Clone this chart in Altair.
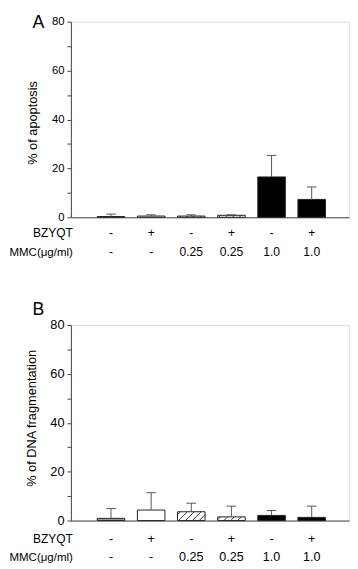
import altair as alt
import pandas as pd

# ---- data ----
positions = [1, 2, 3, 4, 5, 6]
bzyqt = ["-", "+", "-", "+", "-", "+"]
mmc = ["-", "-", "0.25", "0.25", "1.0", "1.0"]
fills = ["#9a9a9a", "#ffffff", "#ffffff", "#ffffff", "#000000", "#000000"]
hatched = [False, False, True, True, False, False]

apoptosis = [0.3, 0.5, 0.5, 0.8, 16.5, 7.3]
apoptosis_err = [1.3, 1.0, 1.0, 1.0, 25.3, 12.4]

dna = [0.9, 4.3, 3.6, 1.5, 2.1, 1.3]
dna_err = [4.9, 11.4, 7.1, 5.9, 4.1, 5.9]

y_ticks = [0, 10, 20, 30, 40, 50, 60, 70, 80]

# ---- layout constants ----
W = 283
H = 199
X_MAX = 6.93
Y_MAX = 80
HALF = 0.343
CAP = 0.12

xs = alt.Scale(domain=[0, X_MAX], nice=False, zero=False)
ys = alt.Scale(domain=[0, Y_MAX], nice=False)
AX = "#444444"


def hatch_lines(values):
    rows = []
    xpx = W / X_MAX
    ypx = H / Y_MAX
    step = 7.0
    for p, v, h in zip(positions, values, hatched):
        if not h:
            continue
        bw = 2 * HALF * xpx
        bh = v * ypx
        left = p - HALF
        c = -bh + 3
        while c < bw:
            t0 = max(0.0, -c)
            t1 = min(bh, bw - c)
            if t1 > t0:
                rows.append({"hx": left + (c + t0) / xpx, "hy": t0 / ypx,
                             "hx2": left + (c + t1) / xpx, "hy2": t1 / ypx})
            c += step
    return pd.DataFrame(rows)


def anchor(x, y):
    # invisible layout anchor that fixes the panel's bounding box
    return alt.Chart(pd.DataFrame({"k": [0]})).mark_rule(opacity=0, strokeWidth=1).encode(
        x=alt.value(x), x2=alt.value(x + 1), y=alt.value(y), y2=alt.value(y))


def panel(values, errs, letter, letter_y, ytitle, ytitle_y, ytitle_x,
          tick_fs, row_fs, row1_y, row2_y, top_anchor, bottom_anchor):
    xa = alt.Axis(title=None, labels=False, ticks=False, grid=False,
                  domainColor=AX, domainWidth=1)
    ya = alt.Axis(title=None, values=y_ticks, grid=False,
                  labelExpr="datum.value % 20 == 0 ? datum.label : ''",
                  tickSize=4, tickColor=AX, domainColor=AX,
                  labelFontSize=tick_fs, labelColor="#000000",
                  labelPadding=3)

    df = pd.DataFrame({"pos": positions, "v": values, "e": errs,
                       "fill": fills, "bz": bzyqt, "mmc": mmc})
    df["zero"] = 0.0
    df["x0"] = df["pos"] - HALF
    df["x1"] = df["pos"] + HALF
    df["c0"] = df["pos"] - CAP
    df["c1"] = df["pos"] + CAP
    base = alt.Chart(df)

    bars = base.mark_bar(stroke="#222222", strokeWidth=1).encode(
        x=alt.X("x0:Q", scale=xs, axis=xa),
        x2="x1:Q",
        y=alt.Y("v:Q", scale=ys, axis=ya),
        y2="zero:Q",
        fill=alt.Color("fill:N", scale=None),
    )

    hdf = hatch_lines(values)
    hatch = alt.Chart(hdf).mark_rule(color="#222222", strokeWidth=0.9).encode(
        x=alt.X("hx:Q", scale=xs, axis=xa),
        x2="hx2:Q",
        y=alt.Y("hy:Q", scale=ys, axis=ya),
        y2="hy2:Q",
    )

    err = base.mark_rule(color="#555555", strokeWidth=1).encode(
        x=alt.X("pos:Q", scale=xs, axis=xa),
        y=alt.Y("v:Q", scale=ys, axis=ya),
        y2="e:Q",
    )
    cap = base.mark_rule(color="#555555", strokeWidth=1).encode(
        x=alt.X("c0:Q", scale=xs, axis=xa),
        x2="c1:Q",
        y=alt.Y("e:Q", scale=ys, axis=ya),
    )

    row1 = base.mark_text(fontSize=row_fs, baseline="middle", color="#000000").encode(
        x=alt.X("pos:Q", scale=xs, axis=xa), y=alt.value(row1_y), text="bz:N")
    row2 = base.mark_text(fontSize=row_fs, baseline="middle", color="#000000").encode(
        x=alt.X("pos:Q", scale=xs, axis=xa), y=alt.value(row2_y), text="mmc:N")

    head1 = alt.Chart(pd.DataFrame({"t": ["BZYQT"]})).mark_text(
        fontSize=12.2, align="right", baseline="middle", color="#000000").encode(
        x=alt.value(2), y=alt.value(row1_y), text="t:N")
    head2 = alt.Chart(pd.DataFrame({"t": ["MMC(μg/ml)"]})).mark_text(
        fontSize=11.7, align="right", baseline="middle", color="#000000").encode(
        x=alt.value(2), y=alt.value(row2_y), text="t:N")

    ttl = alt.Chart(pd.DataFrame({"t": [ytitle]})).mark_text(
        fontSize=13, angle=270, align="center", baseline="middle", color="#000000").encode(
        x=alt.value(ytitle_x), y=alt.value(ytitle_y), text="t:N")

    let = alt.Chart(pd.DataFrame({"t": [letter]})).mark_text(
        fontSize=18, align="left", baseline="alphabetic", color="#000000").encode(
        x=alt.value(-39), y=alt.value(letter_y), text="t:N")

    return alt.layer(bars, hatch, err, cap, row1, row2, head1, head2, ttl, let,
                     anchor(-62, top_anchor), anchor(-62, bottom_anchor)).properties(
        width=W, height=H)


panel_a = panel(apoptosis, apoptosis_err, "A", 6, "% of apoptosis", 103, -38,
                11.5, 12.3, 215, 234, -7.2, 245)
panel_b = panel(dna, dna_err, "B", -10, "% of DNA fragmentation", 95, -40,
                13, 12.8, 218, 236, -28, 245)

chart = alt.vconcat(panel_a, panel_b, spacing=33.6).properties(
    padding={"left": 0, "top": 0, "right": 0, "bottom": 0}
).configure_view(strokeWidth=0).configure(font="Liberation Sans")

chart.save("out.html", embed_options={"renderer": "svg", "actions": False})
